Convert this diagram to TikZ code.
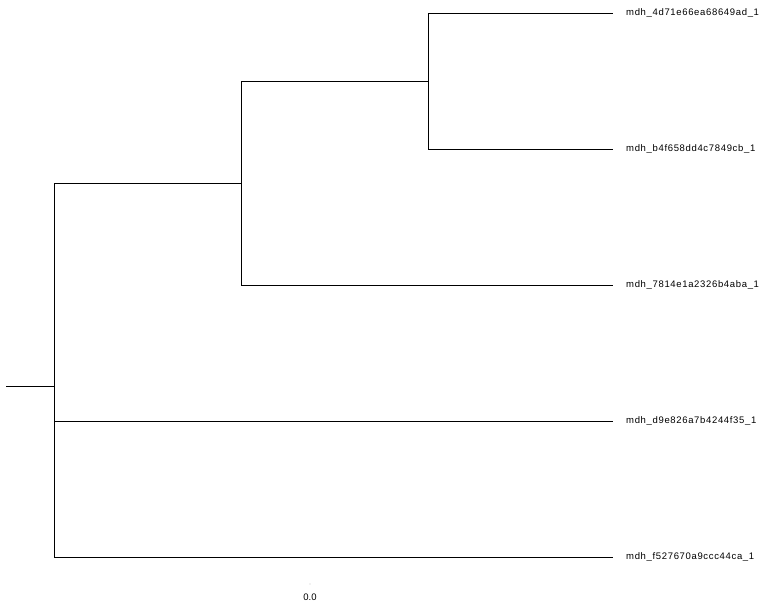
\documentclass[tikz,border=0pt]{standalone}
\usepackage{fontspec}
\setmainfont{Liberation Sans}
\newfontfamily\leaffont[LetterSpace=7]{Liberation Sans}
\usepackage{tikz}
\usetikzlibrary{positioning,calc}

\begin{document}
\begin{tikzpicture}[
        x=1pt, y=-1pt,
        branch/.style={line width=0.9pt, black},
        leaf/.style={anchor=west, font=\leaffont\fontsize{9.5}{10}\selectfont, inner sep=0pt, xshift=13pt},
        tick/.style={circle, fill=black!60, inner sep=0pt, minimum size=0.8pt},
        scalelabel/.style={font=\fontsize{9.5}{10}\selectfont, inner sep=0pt}
    ]
        \useasboundingbox (0,0) rectangle (766,609);

        % internal nodes
        \coordinate (root) at (6,386);
        \coordinate (n0) at (54,386);
        \coordinate (n1) at (241,183);
        \coordinate (n2) at (428,81);

        % leaf tips
        \coordinate (t1) at (613,13);
        \coordinate (t2) at (613,149);
        \coordinate (t3) at (613,285);
        \coordinate (t4) at (613,421);
        \coordinate (t5) at (613,557);

        \node[leaf] (l1) at (t1) {mdh\_4d71e66ea68649ad\_1};
        \node[leaf] (l2) at (t2) {mdh\_b4f658dd4c7849cb\_1};
        \node[leaf] (l3) at (t3) {mdh\_7814e1a2326b4aba\_1};
        \node[leaf] (l4) at (t4) {mdh\_d9e826a7b4244f35\_1};
        \node[leaf] (l5) at (t5) {mdh\_f527670a9ccc44ca\_1};

        \draw[branch] (root) -- (n0);
        \draw[branch] (n0) |- (n1);
        \draw[branch] (n0) |- (t4);
        \draw[branch] (n0) |- (t5);
        \draw[branch] (n1) |- (n2);
        \draw[branch] (n1) |- (t3);
        \draw[branch] (n2) |- (t1);
        \draw[branch] (n2) |- (t2);

        % scale
        \node[tick] (bar) at (310,584) {};
        \node[scalelabel, below=9pt of bar] (barlabel) {0.0};
    \end{tikzpicture}
\end{document}
